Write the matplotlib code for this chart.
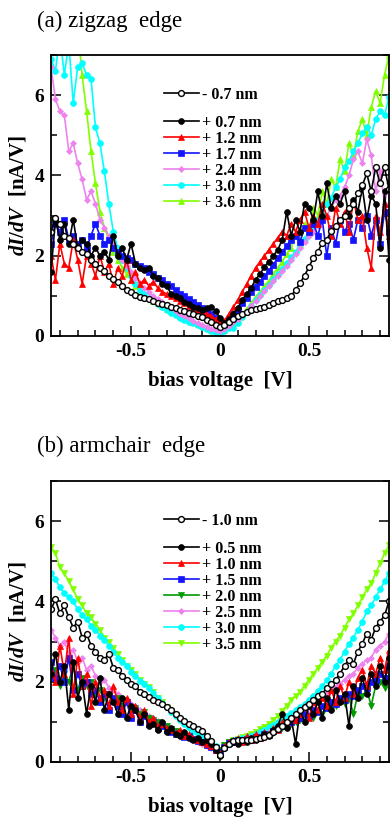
import numpy as np
import matplotlib
matplotlib.use("Agg")
import matplotlib.pyplot as plt
from matplotlib.ticker import MultipleLocator

plt.rcParams['font.family'] = ['Liberation Serif', 'DejaVu Serif']
plt.rcParams['axes.unicode_minus'] = False
plt.rcParams['mathtext.fontset'] = 'custom'
plt.rcParams['mathtext.it'] = 'Liberation Serif:style=italic:weight=bold'
plt.rcParams['mathtext.rm'] = 'Liberation Serif:weight=bold'

# bias grid (V), 0.025 V steps from -0.95 to 0.95
bias = np.round(np.linspace(-0.95, 0.95, 77), 3)

# ---------------- (a) zigzag edge ----------------
a_labels = ["- 0.7 nm", "+ 0.7 nm", "+ 1.2 nm", "+ 1.7 nm", "+ 2.4 nm", "+ 3.0 nm", "+ 3.6 nm"]
a_m07 = [2.6, 2.95, 2.8, 2.5, 2.45, 2.3, 2.2, 2.1, 2.05, 1.9, 1.8,
         1.7, 1.62, 1.5, 1.42, 1.35, 1.25, 1.15, 1.1, 1.02, 0.98, 0.95,
         0.92, 0.88, 0.83, 0.79, 0.76, 0.72, 0.69, 0.66, 0.62, 0.58, 0.55,
         0.51, 0.47, 0.41, 0.34, 0.27, 0.23, 0.28, 0.35, 0.42, 0.5, 0.55,
         0.6, 0.64, 0.67, 0.7, 0.72, 0.77, 0.82, 0.86, 0.9, 0.94, 1.0,
         1.15, 1.32, 1.5, 1.72, 1.95, 2.1, 2.32, 2.4, 2.62, 2.75, 2.9,
         3.0, 3.2, 3.3, 3.55, 3.75, 4.05, 3.6, 4.2, 3.8, 4.2, 3.65]
a_p07 = [1.6, 2.9, 2.4, 2.8, 2.3, 2.9, 2.2, 2.4, 2.3, 2.0, 2.2,
         2.0, 2.1, 1.9, 2.5, 2.0, 2.2, 1.9, 2.3, 1.8, 1.7, 1.65,
         1.7, 1.5, 1.45, 1.3, 1.25, 1.05, 1.0, 0.95, 0.85, 0.8, 0.72,
         0.7, 0.65, 0.7, 0.72, 0.62, 0.45, 0.33, 0.42, 0.55, 0.7, 0.9,
         1.05, 1.2, 1.4, 1.55, 1.72, 1.85, 2.0, 2.15, 2.4, 3.1, 2.5,
         2.9, 2.6, 3.3, 3.2, 2.9, 3.6, 3.0, 3.8, 3.2, 3.5, 3.3,
         3.6, 3.0, 3.4, 3.1, 3.7, 2.9, 3.5, 3.3, 2.2, 3.6, 1.9]
a_p12 = [2.0, 1.4, 2.3, 1.8, 1.7, 2.4, 1.9, 1.3, 2.0, 1.8, 1.5,
         2.0, 1.6, 1.8, 1.3, 1.7, 1.5, 1.9, 1.4, 1.6, 1.3, 1.4,
         1.25, 1.35, 1.2, 1.1, 1.05, 1.0, 0.95, 0.88, 0.82, 0.75, 0.7,
         0.65, 0.6, 0.55, 0.5, 0.42, 0.32, 0.38, 0.55, 0.72, 0.9, 1.1,
         1.3, 1.5, 1.7, 1.85, 2.0, 2.15, 2.3, 2.45, 2.6, 2.5, 2.8,
         2.6, 2.9, 3.1, 2.7, 3.0, 2.8, 3.3, 3.0, 2.5, 3.2, 2.8,
         3.1, 2.6, 3.4, 2.9, 3.0, 2.2, 1.7, 3.0, 2.6, 3.3, 2.5]
a_p17 = [2.3, 2.8, 2.6, 2.9, 2.4, 2.5, 2.3, 2.4, 2.2, 2.5, 2.8,
         2.5, 2.3, 2.4, 2.2, 2.1, 2.0, 1.95, 1.9, 1.8, 1.75, 1.7,
         1.6, 1.55, 1.45, 1.4, 1.3, 1.25, 1.15, 1.05, 1.0, 0.92, 0.85,
         0.78, 0.7, 0.62, 0.55, 0.45, 0.35, 0.3, 0.42, 0.55, 0.65, 0.82,
         0.95, 1.1, 1.22, 1.35, 1.5, 1.62, 1.78, 1.95, 2.1, 2.25, 2.4,
         2.5, 2.35, 2.7, 2.6, 2.8, 2.5, 2.9, 2.0, 2.7, 2.3, 2.9,
         2.6, 2.8, 2.4, 2.9, 2.7, 3.0, 2.5, 2.9, 2.3, 3.1, 2.6]
a_p24 = [6.7, 5.9, 5.6, 5.5, 4.6, 4.8, 4.3, 3.9, 3.4, 3.6, 3.3,
         2.9, 2.7, 2.5, 2.3, 2.1, 1.9, 1.75, 1.6, 1.45, 1.32, 1.2,
         1.1, 1.0, 0.92, 0.85, 0.78, 0.7, 0.63, 0.56, 0.5, 0.44, 0.38,
         0.33, 0.28, 0.23, 0.18, 0.14, 0.12, 0.18, 0.26, 0.34, 0.42, 0.52,
         0.62, 0.75, 0.88, 1.0, 1.12, 1.25, 1.38, 1.5, 1.62, 1.75, 1.9,
         2.05, 2.2, 2.35, 2.5, 2.6, 2.75, 2.9, 3.0, 3.2, 3.4, 3.5,
         3.7, 4.0, 4.4, 4.6, 4.3, 4.9, 4.5, 3.6, 4.1, 3.3, 3.8]
a_p30 = [6.9, 6.6, 7.5, 6.5, 7.3, 5.8, 6.7, 6.8, 6.5, 6.4, 5.2,
         4.8, 4.1, 3.3, 2.6, 2.2, 1.9, 1.7, 1.5, 1.3, 1.15, 1.05,
         0.95, 0.87, 0.8, 0.72, 0.65, 0.58, 0.52, 0.46, 0.41, 0.36, 0.32,
         0.27, 0.22, 0.17, 0.12, 0.08, 0.05, 0.12, 0.2, 0.2, 0.32, 0.47,
         0.6, 0.75, 0.9, 1.02, 1.15, 1.28, 1.42, 1.55, 1.68, 1.82, 1.98,
         2.1, 2.28, 2.42, 2.6, 2.75, 2.9, 3.1, 3.3, 3.45, 3.7, 3.9,
         4.2, 4.35, 4.6, 4.8, 5.05, 5.2, 5.0, 5.4, 5.6, 5.5, 5.95]
a_p36 = [7.8, 7.5, 8.0, 7.6, 7.9, 7.4, 7.7, 6.5, 5.6, 4.6, 3.8,
         3.1, 2.7, 2.4, 2.1, 1.9, 1.7, 1.55, 1.4, 1.25, 1.12, 1.02,
         0.95, 0.88, 0.82, 0.75, 0.68, 0.62, 0.56, 0.5, 0.45, 0.4, 0.35,
         0.3, 0.25, 0.2, 0.16, 0.12, 0.1, 0.15, 0.24, 0.33, 0.42, 0.55,
         0.68, 0.82, 0.98, 1.1, 1.25, 1.38, 1.55, 1.7, 1.85, 2.05, 2.2,
         2.5, 2.3, 2.8, 2.6, 3.2, 3.0, 3.6, 3.3, 3.9, 3.7, 4.4,
         4.1, 4.8, 4.5, 5.1, 5.4, 5.0, 5.7, 6.1, 5.8, 6.5, 7.0]

# ---------------- (b) armchair edge ----------------
b_labels = ["- 1.0 nm", "+ 0.5 nm", "+ 1.0 nm", "+ 1.5 nm", "+ 2.0 nm", "+ 2.5 nm", "+ 3.0 nm", "+ 3.5 nm"]
b_m10 = [3.8, 4.05, 3.7, 3.9, 3.6, 3.35, 3.5, 3.1, 3.2, 2.9, 2.75,
         2.6, 2.55, 2.7, 2.35, 2.3, 2.15, 2.05, 1.95, 1.9, 1.75, 1.7,
         1.62, 1.55, 1.5, 1.45, 1.38, 1.3, 1.2, 1.1, 1.02, 0.95, 0.9,
         0.82, 0.76, 0.65, 0.52, 0.38, 0.18, 0.35, 0.45, 0.52, 0.55, 0.54,
         0.55, 0.56, 0.58, 0.6, 0.62, 0.68, 0.75, 0.82, 0.9, 1.0, 1.1,
         1.2, 1.3, 1.38, 1.45, 1.55, 1.65, 1.7, 1.85, 1.95, 2.05, 2.2,
         2.4, 2.55, 2.45, 2.75, 2.95, 3.2, 3.05, 3.35, 3.5, 3.65, 4.0]
b_p05 = [2.2, 2.7, 2.0, 2.4, 1.3, 2.5, 1.6, 2.0, 1.2, 1.9, 1.5,
         2.1, 1.3, 1.7, 1.5, 1.2, 1.6, 1.1, 1.4, 1.3, 1.0, 1.2,
         0.9, 0.95, 0.8, 1.0, 0.75, 0.85, 0.7, 0.65, 0.75, 0.6, 0.55,
         0.6, 0.5, 0.55, 0.45, 0.3, 0.15, 0.35, 0.45, 0.5, 0.45, 0.55,
         0.5, 0.6, 0.55, 0.6, 0.7, 0.65, 0.8, 0.9, 1.2, 0.85, 1.1,
         0.45, 1.3, 1.0, 1.4, 1.2, 1.5, 1.1, 1.6, 1.3, 1.8, 1.5,
         1.7, 0.9, 1.9, 1.6, 2.1, 1.7, 2.2, 1.9, 2.4, 2.0, 2.6]
b_p10 = [2.3, 2.0, 2.9, 2.2, 3.1, 1.7, 2.6, 1.9, 2.2, 1.4, 2.0,
         1.6, 1.8, 1.4, 1.9, 1.5, 1.3, 1.6, 1.2, 1.4, 1.1, 1.3,
         1.0, 1.1, 0.9, 0.95, 0.85, 0.8, 0.72, 0.8, 0.65, 0.7, 0.6,
         0.55, 0.5, 0.45, 0.4, 0.3, 0.2, 0.4, 0.5, 0.55, 0.6, 0.5,
         0.65, 0.55, 0.7, 0.6, 0.75, 0.7, 0.85, 0.8, 1.0, 0.95, 1.1,
         1.05, 1.2, 1.4, 1.1, 1.5, 1.3, 1.6, 1.4, 1.8, 1.5, 1.9,
         1.6, 2.0, 1.7, 2.1, 2.3, 1.9, 2.4, 2.2, 2.6, 2.3, 2.8]
b_p15 = [2.5, 2.1, 2.4, 2.0, 2.6, 1.8, 2.2, 1.9, 2.0, 1.7, 1.8,
         1.5, 1.7, 1.3, 1.6, 1.4, 1.2, 1.5, 1.1, 1.3, 1.0, 1.15,
         0.95, 1.0, 0.85, 0.9, 0.8, 0.75, 0.7, 0.72, 0.62, 0.65, 0.58,
         0.52, 0.5, 0.42, 0.38, 0.3, 0.25, 0.38, 0.48, 0.5, 0.55, 0.52,
         0.58, 0.55, 0.62, 0.6, 0.7, 0.68, 0.78, 0.82, 0.9, 0.92, 1.0,
         1.05, 1.1, 1.2, 1.15, 1.3, 1.25, 1.4, 1.35, 1.5, 1.45, 1.6,
         1.55, 1.7, 1.65, 1.8, 1.9, 1.85, 2.0, 2.05, 2.2, 2.1, 2.4]
b_p20 = [2.1, 2.3, 1.9, 2.2, 2.0, 2.4, 1.8, 2.1, 1.9, 2.0, 1.7,
         1.8, 1.6, 1.7, 1.5, 1.6, 1.4, 1.5, 1.3, 1.35, 1.2, 1.25,
         1.1, 1.05, 1.0, 0.95, 0.9, 0.82, 0.78, 0.72, 0.68, 0.62, 0.58,
         0.55, 0.5, 0.47, 0.42, 0.35, 0.3, 0.42, 0.5, 0.52, 0.55, 0.52,
         0.56, 0.58, 0.6, 0.62, 0.65, 0.7, 0.72, 0.8, 0.85, 0.9, 0.95,
         1.0, 1.05, 1.0, 1.15, 1.1, 1.25, 1.2, 1.35, 1.3, 1.4, 1.5,
         1.45, 1.6, 1.2, 1.7, 1.65, 1.8, 1.4, 1.9, 2.0, 1.85, 2.1]
b_p25 = [3.3, 3.1, 2.9, 3.0, 2.7, 2.8, 2.5, 2.6, 2.3, 2.4, 2.15,
         2.0, 2.05, 1.85, 1.8, 1.7, 1.6, 1.55, 1.45, 1.4, 1.3, 1.25,
         1.15, 1.1, 1.02, 0.95, 0.9, 0.82, 0.78, 0.7, 0.65, 0.6, 0.55,
         0.5, 0.45, 0.4, 0.35, 0.3, 0.25, 0.38, 0.45, 0.5, 0.52, 0.55,
         0.58, 0.6, 0.62, 0.66, 0.7, 0.75, 0.8, 0.88, 0.95, 1.0, 1.08,
         1.15, 1.22, 1.3, 1.38, 1.45, 1.55, 1.62, 1.7, 1.8, 1.88, 1.95,
         2.05, 2.15, 2.2, 2.35, 2.45, 2.55, 2.6, 2.8, 2.9, 3.0, 3.2]
b_p30 = [4.7, 4.55, 4.35, 4.2, 4.1, 4.0, 3.8, 3.65, 3.55, 3.4, 3.3,
         3.15, 3.05, 2.9, 2.75, 2.6, 2.5, 2.4, 2.25, 2.15, 2.02, 1.95,
         1.85, 1.72, 1.6, 1.48, 1.36, 1.25, 1.15, 1.05, 0.95, 0.86, 0.78,
         0.7, 0.62, 0.55, 0.48, 0.4, 0.3, 0.4, 0.48, 0.54, 0.58, 0.6,
         0.62, 0.66, 0.7, 0.75, 0.8, 0.86, 0.92, 1.0, 1.08, 1.15, 1.22,
         1.3, 1.38, 1.45, 1.55, 1.65, 1.78, 1.9, 2.05, 2.2, 2.4, 2.55,
         2.75, 2.95, 3.1, 3.3, 3.5, 3.75, 3.9, 4.1, 4.3, 4.5, 4.7]
b_p35 = [5.35, 5.2, 4.85, 4.7, 4.5, 4.3, 4.05, 3.9, 3.7, 3.6, 3.45,
         3.3, 3.1, 3.0, 2.85, 2.7, 2.55, 2.4, 2.3, 2.2, 2.05, 1.95,
         1.88, 1.75, 1.6, 1.5, 1.38, 1.28, 1.18, 1.05, 0.95, 0.85, 0.75,
         0.68, 0.6, 0.52, 0.45, 0.38, 0.3, 0.42, 0.5, 0.55, 0.58, 0.62,
         0.65, 0.7, 0.75, 0.82, 0.88, 0.95, 1.05, 1.15, 1.28, 1.4, 1.55,
         1.65, 1.75, 1.9, 2.05, 2.2, 2.35, 2.5, 2.65, 2.85, 3.0, 3.15,
         3.35, 3.55, 3.7, 3.9, 4.1, 4.3, 4.45, 4.7, 4.95, 5.2, 5.4]

# styles: (color, marker, size, open)
a_styles = [("black", "o", 4.2, True), ("black", "o", 4.2, False), ("#ff0000", "^", 4.6, False),
            ("#1414ff", "s", 4.0, False), ("#ee82ee", "D", 3.0, False), ("#00ffff", "o", 4.2, False),
            ("#80ff00", "^", 4.6, False)]
b_styles = [("black", "o", 4.2, True), ("black", "o", 4.2, False), ("#ff0000", "^", 4.6, False),
            ("#1414ff", "s", 4.0, False), ("#009a00", "v", 4.6, False), ("#ee82ee", "D", 3.0, False),
            ("#00ffff", "o", 4.2, False), ("#80ff00", "v", 4.6, False)]

W, H = 391, 819
fig = plt.figure(figsize=(W / 100, H / 100), dpi=100)


def make_panel(rect, title, title_y, labels, series, styles):
    ax = fig.add_axes(rect)
    handles = []
    # draw in reverse so that the first series are on top
    for lab, y, (c, m, ms, op) in reversed(list(zip(labels, series, styles))):
        h, = ax.plot(bias, y, color=c, lw=1.2, marker=m, ms=ms,
                     mfc="white" if op else c, mec=c, mew=1.0 if op else 0.5,
                     label=lab, clip_on=True)
        handles.append(h)
    handles = handles[::-1]
    ax.set_xlim(-0.95, 0.95)
    ax.set_ylim(0, 7)
    ax.xaxis.set_major_locator(MultipleLocator(0.5))
    ax.xaxis.set_minor_locator(MultipleLocator(0.1))
    ax.yaxis.set_major_locator(MultipleLocator(2))
    ax.yaxis.set_minor_locator(MultipleLocator(1))
    ax.tick_params(which="both", direction="in", right=True, top=False, width=1.1)
    ax.tick_params(which="major", length=7, labelsize=14, pad=5)
    ax.tick_params(which="minor", length=4)
    ax.set_xticks([-0.5, 0, 0.5])
    ax.set_xticklabels(["-0.5", "0", "0.5"])
    for t in ax.get_xticklabels() + ax.get_yticklabels():
        t.set_fontweight("bold")
    for s in ax.spines.values():
        s.set_linewidth(1.3)
    ax.set_xlabel("bias voltage  [V]", fontsize=15, fontweight="bold", labelpad=8)
    ax.set_ylabel(r"$dI/dV$  [nA/V]", fontsize=15, fontweight="bold", labelpad=4)
    fig.text(37 / W, title_y, title, fontsize=16.5, va="baseline", ha="left")
    lp = dict(frameon=False, prop={"weight": "bold", "size": 11.5}, handlelength=2.2,
              handletextpad=0.2, borderpad=0, borderaxespad=0, numpoints=1,
              labelspacing=0.0, loc="upper left")
    leg1 = ax.legend(handles[:1], labels[:1], bbox_to_anchor=(0.333, 0.887), **lp)
    ax.add_artist(leg1)
    ax.legend(handles[1:], labels[1:], bbox_to_anchor=(0.333, 0.787), **lp)
    return ax


make_panel([51 / W, 1 - 336 / H, 338 / W, 281 / H], "(a) zigzag  edge", 1 - 27 / H,
           a_labels, [a_m07, a_p07, a_p12, a_p17, a_p24, a_p30, a_p36], a_styles)
make_panel([51 / W, 1 - 762 / H, 338 / W, 281 / H], "(b) armchair  edge", 1 - 452 / H,
           b_labels, [b_m10, b_p05, b_p10, b_p15, b_p20, b_p25, b_p30, b_p35], b_styles)

fig.savefig("out.png", dpi=100)
